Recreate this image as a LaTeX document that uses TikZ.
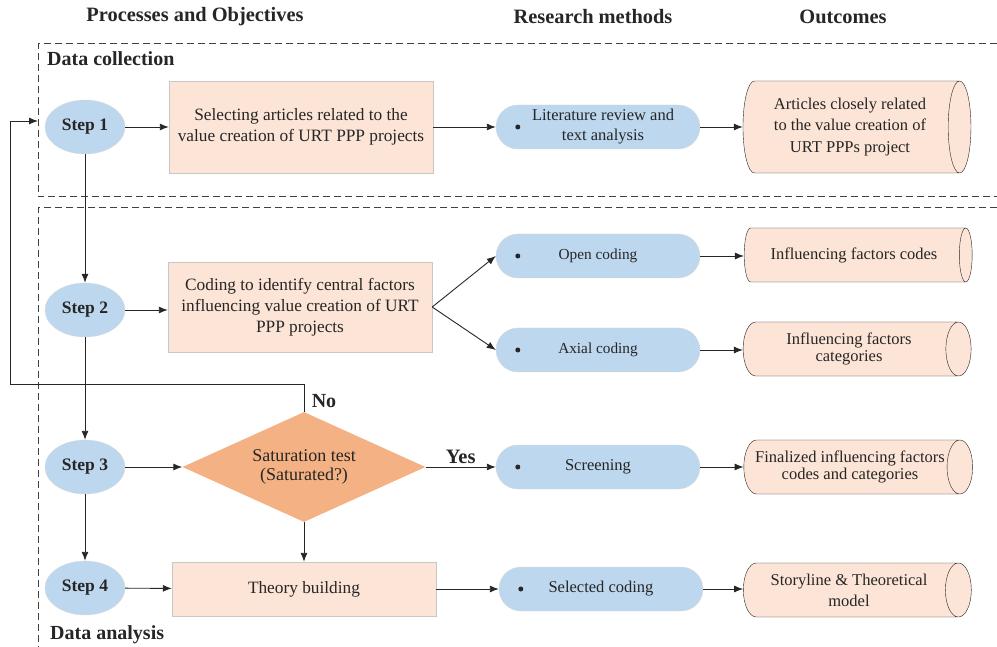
\documentclass[tikz,border=0pt]{standalone}
\usepackage{fontspec}
\setmainfont{Liberation Serif}
\usetikzlibrary{arrows.meta,shapes.geometric}

\definecolor{stepblue}{RGB}{189,215,238}
\definecolor{boxpeach}{RGB}{252,228,214}
\definecolor{diamorange}{RGB}{244,177,131}
\definecolor{inkgray}{RGB}{38,38,38}

\tikzset{
  every node/.style={text=inkgray},
  heading/.style={font=\fontsize{20.4}{22}\selectfont\bfseries},
  stagelabel/.style={font=\fontsize{20}{22}\selectfont\bfseries, anchor=west, inner sep=0pt},
  decision/.style={font=\fontsize{20.5}{22}\selectfont\bfseries},
  stepnode/.style={ellipse, fill=stepblue, draw=black!15, minimum width=80pt,
    minimum height=54pt, inner sep=0pt, font=\fontsize{17.5}{20}\selectfont\bfseries},
  taskbox/.style={rectangle, fill=boxpeach, draw=black!22, minimum width=264pt,
    align=center, font=\fontsize{17.3}{21.5}\selectfont},
  methodpill/.style={rectangle, rounded corners=22pt, fill=stepblue, draw=black!15,
    minimum width=204pt, minimum height=44pt, align=center,
    font=\fontsize{16.5}{20}\selectfont},
  outcomecyl/.style={cylinder, shape aspect=0.75, draw=inkgray, fill=boxpeach,
    minimum height=228pt, minimum width=54pt, inner xsep=2pt, inner ysep=1pt,
    align=center, font=\fontsize{16.5}{19}\selectfont},
  arr/.style={-{Latex[length=9pt,width=7pt]}, draw=inkgray, line width=0.9pt},
  frame/.style={dash pattern=on 7pt off 4pt, draw=black!75, line width=1pt},
}

\begin{document}
\begin{tikzpicture}[x=1pt,y=-1pt]
\useasboundingbox (0,0) rectangle (997,647);

% column headings
\node[heading] (hdproc) at (195,17) {Processes and Objectives};
\node[heading] (hdmeth) at (593,17) {Research methods};
\node[heading] (hdout) at (843,17) {Outcomes};

% the two dashed stages
\draw[frame] (997,44) -- (38,44) -- (38,197) -- (997,197);
\draw[frame] (997,208) -- (38,208) -- (38,647);
\node[stagelabel] (lbcollect) at (47,59) {Data collection};
\node[stagelabel] (lbanalysis) at (50,635) {Data analysis};

% steps
\node[stepnode] (s1) at (85,127) {Step 1};
\node[stepnode] (s2) at (85,310) {Step 2};
\node[stepnode] (s3) at (85,467) {Step 3};
\node[stepnode] (s4) at (85,588) {Step 4};

% processes and objectives
\node[taskbox, minimum height=92pt] (sel) at (301,127)
  {Selecting articles related to the\\value creation of URT PPP projects};
\node[taskbox, minimum height=90pt, font=\fontsize{17.3}{21}\selectfont] (cod) at (300,307)
  {Coding to identify central factors\\influencing value creation of URT\\PPP projects};
\node[diamond, fill=diamorange, shape aspect=2.2, minimum width=243pt, minimum height=110pt,
  inner sep=0pt, align=center, font=\fontsize{18}{19}\selectfont] (sat) at (304,467)
  {\raisebox{-3pt}{Saturation test}\\\raisebox{-3pt}{(Saturated?)}};
\node[taskbox, minimum height=54pt] (thy) at (304,589) {Theory building};

% research methods
\node[methodpill] (lit) at (598,127) {\hspace*{10pt}Literature review and\\\hspace*{10pt}text analysis};
\node[methodpill, font=\fontsize{15.3}{18}\selectfont] (opn) at (598,256) {Open coding};
\node[methodpill, font=\fontsize{15.3}{18}\selectfont] (axl) at (598,350) {Axial coding};
\node[methodpill] (scr) at (598,467) {Screening};
\node[methodpill] (slc) at (601,589) {Selected coding};
\foreach \m in {lit,opn,axl,scr,slc}
  \fill[inkgray] ([xshift=22pt]\m.west) circle (2.5pt);

% outcomes
\node[outcomecyl, minimum width=92pt, shape aspect=0.38, font=\fontsize{16.5}{21.5}\selectfont] (art) at (850,127)
  {Articles closely related\\to the value creation of\\URT PPPs project};
\node[outcomecyl] (fcd) at (854,255) {Influencing factors codes};
\node[outcomecyl, font=\fontsize{16.5}{16.5}\selectfont] (fct) at (849,349) {Influencing factors\\categories};
\node[outcomecyl, font=\fontsize{16.5}{17}\selectfont] (fin) at (850,467) {Finalized influencing factors\\codes and categories};
\node[outcomecyl, font=\fontsize{16.5}{21}\selectfont] (sty) at (849,590) {Storyline \& Theoretical\\model};

% connectors
\draw[arr] (s1) -- (s2);
\draw[arr] (s2) -- (s3);
\draw[arr] (s3) -- (s4);
\draw[arr] (s1) -- (sel);
\draw[arr] (sel) -- (lit);
\draw[arr] (lit.east) -- (lit.east -| art.west);
\draw[arr] (s2.east) -- (s2.east -| cod.west);
\draw[arr] (cod.east) -- (opn.west);
\draw[arr] (cod.east) -- (axl.west);
\draw[arr] (opn.east) -- (opn.east -| fcd.west);
\draw[arr] (axl.east) -- (axl.east -| fct.west);
\draw[arr] (s3) -- (sat);
\draw[arr] (sat) -- node[above, decision] (lbyes) {Yes} (scr);
\draw[arr] (scr) -- (fin);
\draw[arr] (sat) -- (thy);
\draw[arr] (s4) -- (thy);
\draw[arr] (thy) -- (slc);
\draw[arr] (slc.east) -- (slc.east -| sty.west);

% back to data collection when not saturated
\coordinate (fbturn) at (10,384);
\coordinate (fbend) at (38,121);
\draw[arr] (sat.north) |- (fbturn) -- (fbturn |- fbend) -- (fbend);
\node[decision, font=\fontsize{20}{22}\selectfont\bfseries] (lbno) at (324,401) {No};
\end{tikzpicture}
\end{document}
